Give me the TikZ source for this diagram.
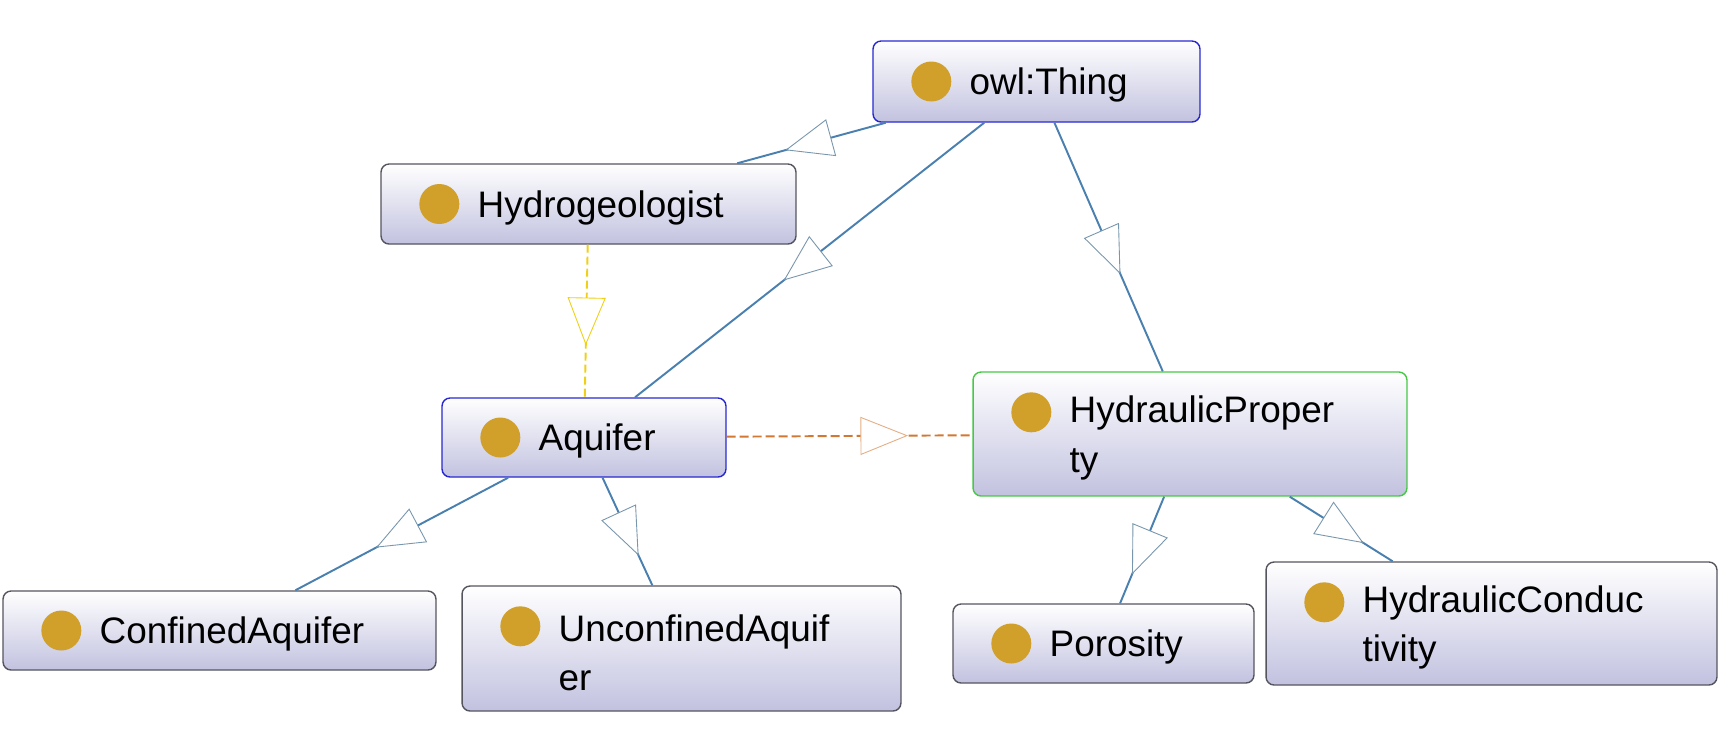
\documentclass[tikz,border=0pt]{standalone}
\usepackage{fontspec}
\setmainfont{Liberation Sans}
\usetikzlibrary{decorations.markings,calc}

\definecolor{edgeblue}{RGB}{74,128,176}
\definecolor{tipgrey}{RGB}{120,150,172}
\definecolor{framegrey}{RGB}{85,85,95}
\definecolor{frameblue}{RGB}{40,40,210}
\definecolor{framegreen}{RGB}{70,200,70}
\definecolor{boxlow}{RGB}{194,194,224}
\definecolor{dotgold}{RGB}{208,160,42}
\definecolor{dashyellow}{RGB}{240,208,20}
\definecolor{dashorange}{RGB}{210,120,50}

\tikzset{
  cls/.style={draw=framegrey, line width=0.8pt, rounded corners=0.16cm, top color=white, bottom color=boxlow, inner sep=0pt},
  clsdot/.style={circle, fill=dotgold, minimum size=0.8cm, inner sep=0pt},
  lbl/.style={font=\fontsize{21}{28}\selectfont, align=left, inner sep=0pt},
  midtri/.style 2 args={postaction={decorate}, decoration={markings, mark=at position #2 with {\draw[#1, solid, line width=0.5pt, fill=white] (0.46cm,0) -- (-0.46cm,0.37cm) -- (-0.46cm,-0.37cm) -- cycle;}}},
  isa/.style={draw=edgeblue, line width=1.1pt, midtri={tipgrey}{0.52}},
  seeyellow/.style={draw=dashyellow, line width=1.1pt, dash pattern=on 0.16cm off 0.08cm, midtri={dashyellow}{0.5}},
  seeorange/.style={draw=dashorange, line width=1.1pt, dash pattern=on 0.18cm off 0.08cm, midtri={dashorange!60}{0.64}},
}

\begin{document}
\begin{tikzpicture}[x=0.02cm,y=-0.02cm]
\fill[white] (0,0) rectangle (1728,735);
% class boxes
\node[cls, draw=frameblue, minimum width=6.54cm, minimum height=1.62cm] (thing) at (1036.5,81.5) {};
\node[cls, minimum width=8.3cm, minimum height=1.6cm] (hydro) at (588.5,204) {};
\node[cls, draw=frameblue, minimum width=5.68cm, minimum height=1.58cm] (aquifer) at (584,437.5) {};
\node[cls, draw=framegreen, minimum width=8.68cm, minimum height=2.48cm] (hydprop) at (1190,434) {};
\node[cls, minimum width=8.66cm, minimum height=1.58cm] (confined) at (219.5,630.5) {};
\node[cls, minimum width=8.78cm, minimum height=2.5cm] (unconfined) at (681.5,648.5) {};
\node[cls, minimum width=6.02cm, minimum height=1.58cm] (porosity) at (1103.5,643.5) {};
\node[cls, minimum width=9.02cm, minimum height=2.46cm] (conduct) at (1491.5,623.5) {};
% one-line labels
\foreach \n/\t in {thing/owl:Thing, hydro/Hydrogeologist, aquifer/Aquifer, confined/ConfinedAquifer, porosity/Porosity}{
  \node[clsdot] (\n dot) at ([xshift=1.18cm]\n.west) {};
  \node[lbl, anchor=base west] (\n lbl) at ([xshift=1.94cm,yshift=-0.26cm]\n.west) {\t};
}
% two-line labels
\foreach \n/\t in {hydprop/{HydraulicProper\\ty}, unconfined/{UnconfinedAquif\\er}, conduct/{HydraulicConduc\\tivity}}{
  \node[clsdot] (\n dot) at ([xshift=1.18cm,yshift=-0.82cm]\n.north west) {};
  \node[lbl, anchor=west] (\n lbl) at ([xshift=1.94cm,yshift=-0.08cm]\n.west) {\t};
}
% subclass links
\foreach \a/\b in {thing/hydro, thing/aquifer, thing/hydprop, aquifer/confined, aquifer/unconfined, hydprop/porosity, hydprop/conduct}
  \draw[isa] (\a) -- (\b);
\draw[seeyellow] (hydro) -- (aquifer);
\draw[seeorange] (aquifer) -- (hydprop);
\end{tikzpicture}
\end{document}
